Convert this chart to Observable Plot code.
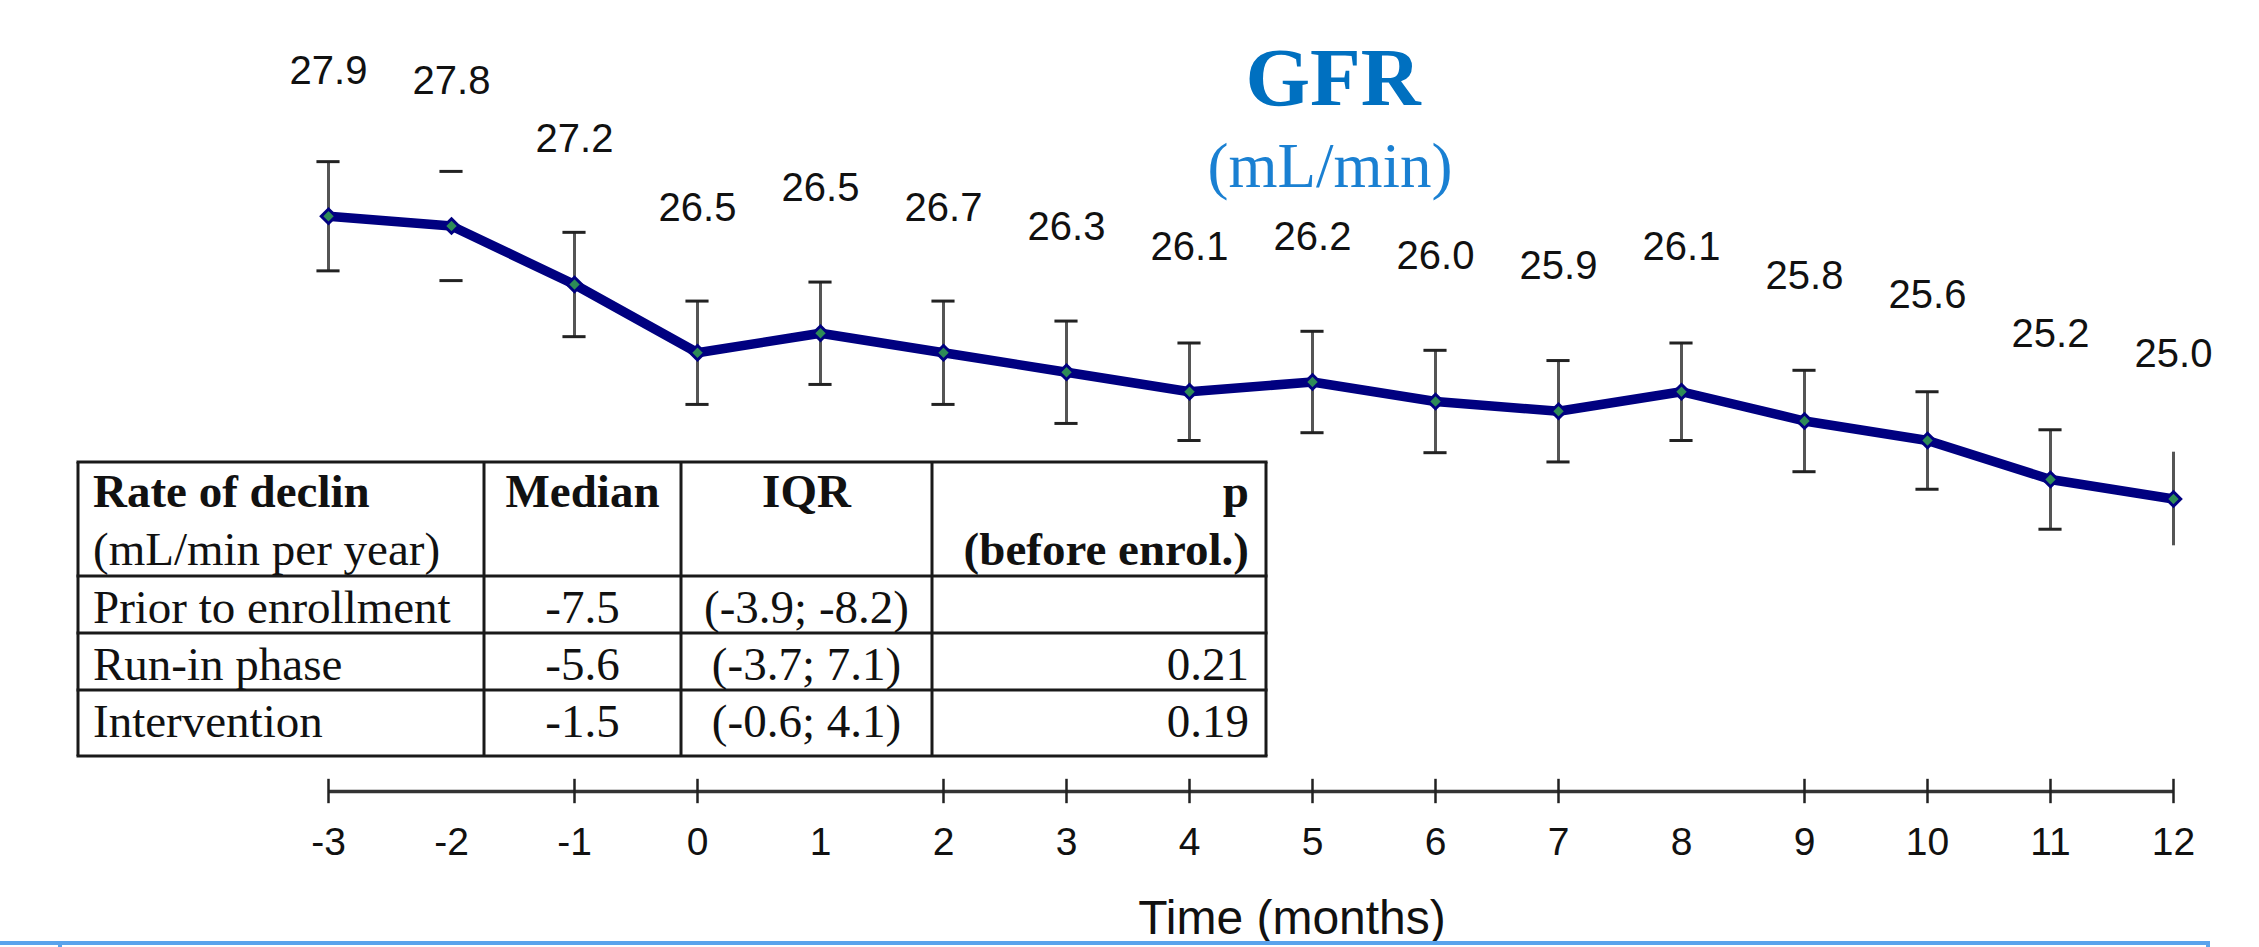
<!DOCTYPE html>
<html>
<head>
<meta charset="utf-8">
<script src="https://cdn.jsdelivr.net/npm/d3@7"></script>
<script src="https://cdn.jsdelivr.net/npm/@observablehq/plot@0.6"></script>
<style>
  html, body { margin: 0; padding: 0; background: #fff; overflow: hidden; }
  #wrap { position: relative; width: 2259px; height: 947px; overflow: hidden; background: #fff; }
  #wrap > svg { position: absolute; left: 0; top: 0; }
</style>
</head>
<body>
<div id="wrap"></div>
<script>
// ---- data ----
const months = [-3, -2, -1, 0, 1, 2, 3, 4, 5, 6, 7, 8, 9, 10, 11, 12];
const gfr = [27.9, 27.8, 27.2, 26.5, 26.7, 26.5, 26.3, 26.1, 26.2, 26.0, 25.9, 26.1, 25.8, 25.6, 25.2, 25.0];
const valueLabels = ["27.9", "27.8", "27.2", "26.5", "26.5", "26.7", "26.3", "26.1", "26.2", "26.0", "25.9", "26.1", "25.8", "25.6", "25.2", "25.0"];
const errHalf = [0.56, 0.56, 0.535, 0.53, 0.525, 0.53, 0.525, 0.50, 0.52, 0.525, 0.52, 0.50, 0.52, 0.50, 0.51, 0.48];
const tickMonths = [-3, -1, 0, 2, 3, 4, 5, 6, 7, 9, 10, 11, 12];
const stemless = [-2];
const capless = [12];

const titleText = "GFR";
const subtitleText = "(mL/min)";
const xLabel = "Time (months)";

const headerCol1 = ["Rate of declin", "(mL/min per year)"];
const headerCol2 = "Median";
const headerCol3 = "IQR";
const headerCol4 = ["p", "(before enrol.)"];
const phases = ["Prior to enrollment", "Run-in phase", "Intervention"];
const medians = ["-7.5", "-5.6", "-1.5"];
const iqrs = ["(-3.9; -8.2)", "(-3.7; 7.1)", "(-0.6; 4.1)"];
const pValues = ["", "0.21", "0.19"];

// ---- table built from arrays ----
const data = months.map((m, i) => ({
  m, v: gfr[i], label: valueLabels[i], lo: gfr[i] - errHalf[i], hi: gfr[i] + errHalf[i]
}));
const stems = data.filter(d => !stemless.includes(d.m));
const caps = data.filter(d => !capless.includes(d.m));
const capHalf = 0.094;   // months
const tickHalf = 0.125;  // GFR units

const sans = "'Liberation Sans', Arial, Helvetica, sans-serif";
const serif = "'Liberation Serif', 'Times New Roman', Times, serif";

const chart = Plot.plot({
  width: 2259,
  height: 947,
  marginLeft: 328,
  marginRight: 86,
  marginTop: 11,
  marginBottom: 156,
  style: { fontFamily: sans, background: "transparent", color: "#111", overflow: "visible" },
  x: { domain: [-3, 12] },
  y: { domain: [22, 30], axis: null },
  marks: [
    Plot.ruleY([22], { x1: -3, x2: 12, stroke: "#333", strokeWidth: 3.5 }),
    Plot.ruleX(tickMonths, { x: d => d, y1: 22 - tickHalf, y2: 22 + tickHalf, stroke: "#222", strokeWidth: 2.5 }),
    Plot.axisX(months, { tickSize: 0, tickPadding: 36, fontSize: 39, label: null, tickFormat: d => String(d), fill: "#111" }),
    Plot.ruleX(stems, { x: "m", y1: "lo", y2: "hi", stroke: "#555", strokeWidth: 3 }),
    Plot.ruleY(caps, { y: "hi", x1: d => d.m - capHalf, x2: d => d.m + capHalf, stroke: "#222", strokeWidth: 3 }),
    Plot.ruleY(caps, { y: "lo", x1: d => d.m - capHalf, x2: d => d.m + capHalf, stroke: "#222", strokeWidth: 3 }),
    Plot.line(data, { x: "m", y: "v", stroke: "#000080", strokeWidth: 9.5, strokeLinejoin: "round" }),
    Plot.dot(data, { x: "m", y: "v", symbol: "diamond2", r: 6.5, fill: "#2e8b57", stroke: "#000080", strokeWidth: 3 }),
    Plot.text(data, { x: "m", y: "v", text: "label", dy: -145, fontSize: 40, fill: "#111" })
  ]
});
document.getElementById("wrap").appendChild(chart);

// ---- overlay: title, table, axis label, frame ----
const ov = d3.select("#wrap").append("svg")
  .attr("width", 2259).attr("height", 947)
  .attr("viewBox", "0 0 2259 947");

ov.append("text").attr("x", 1333).attr("y", 105).attr("text-anchor", "middle")
  .attr("font-family", serif).attr("font-weight", "bold").attr("font-size", 83)
  .attr("fill", "#0070C0").text(titleText);
ov.append("text").attr("x", 1330).attr("y", 187).attr("text-anchor", "middle")
  .attr("font-family", serif).attr("font-size", 63)
  .attr("fill", "#1a80d2").text(subtitleText);

// table layout
const colEdges = [78, 484, 681, 932, 1266];
const rowEdges = [462, 576, 633, 690, 756];
const tbl = ov.append("g");
tbl.append("rect").attr("x", colEdges[0]).attr("y", rowEdges[0])
  .attr("width", colEdges[4] - colEdges[0]).attr("height", rowEdges[4] - rowEdges[0])
  .attr("fill", "#fff").attr("stroke", "none");
colEdges.forEach(x => tbl.append("line").attr("x1", x).attr("x2", x)
  .attr("y1", rowEdges[0]).attr("y2", rowEdges[4]).attr("stroke", "#1a1a1a").attr("stroke-width", 3));
rowEdges.forEach(y => tbl.append("line").attr("x1", colEdges[0] - 1.5).attr("x2", colEdges[4] + 1.5)
  .attr("y1", y).attr("y2", y).attr("stroke", "#1a1a1a").attr("stroke-width", 3));

const fs = 47;
function cellText(txt, col, baseline, bold, align) {
  let x, anchor;
  if (align === "left") { x = colEdges[col] + 15; anchor = "start"; }
  else if (align === "right") { x = colEdges[col + 1] - 17; anchor = "end"; }
  else { x = (colEdges[col] + colEdges[col + 1]) / 2; anchor = "middle"; }
  tbl.append("text").attr("x", x).attr("y", baseline).attr("text-anchor", anchor)
    .attr("font-family", serif).attr("font-size", fs)
    .attr("font-weight", bold ? "bold" : "normal").attr("fill", "#111").text(txt);
}
cellText(headerCol1[0], 0, 507, true, "left");
cellText(headerCol1[1], 0, 565, false, "left");
cellText(headerCol2, 1, 507, true, "middle");
cellText(headerCol3, 2, 507, true, "middle");
cellText(headerCol4[0], 3, 507, true, "right");
cellText(headerCol4[1], 3, 565, true, "right");
phases.forEach((p, i) => {
  const base = rowEdges[i + 1] + 46.5;
  cellText(p, 0, base, false, "left");
  cellText(medians[i], 1, base, false, "middle");
  cellText(iqrs[i], 2, base, false, "middle");
  cellText(pValues[i], 3, base, false, "right");
});

ov.append("text").attr("x", 1292).attr("y", 934).attr("text-anchor", "middle")
  .attr("font-family", sans).attr("font-size", 48).attr("fill", "#111").text(xLabel);

// light-blue frame edge at the bottom
ov.append("path").attr("d", "M0,943 H2208 V950 M60,943 V950")
  .attr("fill", "none").attr("stroke", "#5aa3ec").attr("stroke-width", 4);
</script>
</body>
</html>
